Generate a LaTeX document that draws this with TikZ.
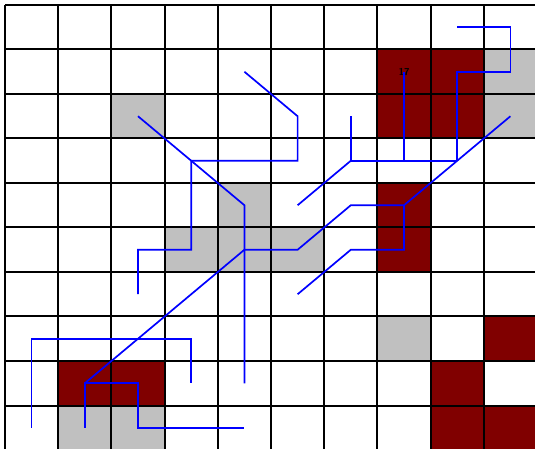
\documentclass[tikz,border=0pt]{standalone}
\usepackage{xcolor}
\usepackage{tikz}
\definecolor{wallred}{HTML}{800000}
\definecolor{freegray}{HTML}{C0C0C0}

\begin{document}
\begin{tikzpicture}[x=53.2pt,y=-44.5pt,
		gridline/.style={line width=2pt},
		route/.style={blue,line width=1.7pt}]
		\useasboundingbox (-0.094,-0.112) rectangle (9.962,9.97);
		\clip (-0.094,-0.112) rectangle (9.962,9.97);
		\foreach \c in {0,...,9} \foreach \r in {0,...,9} \coordinate (p-\c-\r) at (\c+0.5,\r+0.5);
		% blocked cells
		\fill[wallred] (7,1) rectangle (9,3);
		\fill[wallred] (7,4) rectangle (8,6);
		\fill[wallred] (1,8) rectangle (3,9);
		\fill[wallred] (9,7) rectangle (10,8);
		\fill[wallred] (8,8) rectangle (9,10);
		\fill[wallred] (9,9) rectangle (10,10);
		% visited cells
		\fill[freegray] (9,1) rectangle (10,3);
		\fill[freegray] (2,2) rectangle (3,3);
		\fill[freegray] (4,4) rectangle (5,5);
		\fill[freegray] (3,5) rectangle (6,6);
		\fill[freegray] (1,9) rectangle (3,10);
		\fill[freegray] (7,7) rectangle (8,8);
		\foreach \i in {0,...,10} {
			\draw[gridline] (\i,0) -- (\i,10);
			\draw[gridline] (0,\i) -- (10,\i);
		}
		\node[font=\sffamily\bfseries,inner sep=0pt] (lbl17) at (p-7-1) {17};
		% tree
		\draw[route] (p-4-1) -- (p-5-2) -- (p-5-3) -- (p-3-3) -- (p-3-5) -- (p-2-5) -- (p-2-6);
		\draw[route] (p-2-2) -- (p-3-3) -- (p-4-4) -- (p-4-8);
		\draw[route] (p-9-2) -- (p-8-3) -- (p-7-4) -- (p-6-4) -- (p-5-5) -- (p-4-5) -- (p-1-8);
		\draw[route] (p-7-4) -- (p-7-5) -- (p-6-5) -- (p-5-6);
		\draw[route] (p-8-3) -- (p-8-1) -- (p-9-1) -- (p-9-0) -- (p-8-0);
		\draw[route] (p-8-3) -- (p-6-3) -- (p-6-2);
		\draw[route] (p-7-3) -- (p-7-1);
		\draw[route] (p-6-3) -- (p-5-4);
		\draw[route] (p-0-9) -- (p-0-7) -- (p-3-7) -- (p-3-8);
		\draw[route] (p-1-9) -- (p-1-8) -- (p-2-8) -- (p-2-9) -- (p-4-9);
\end{tikzpicture}
\end{document}
